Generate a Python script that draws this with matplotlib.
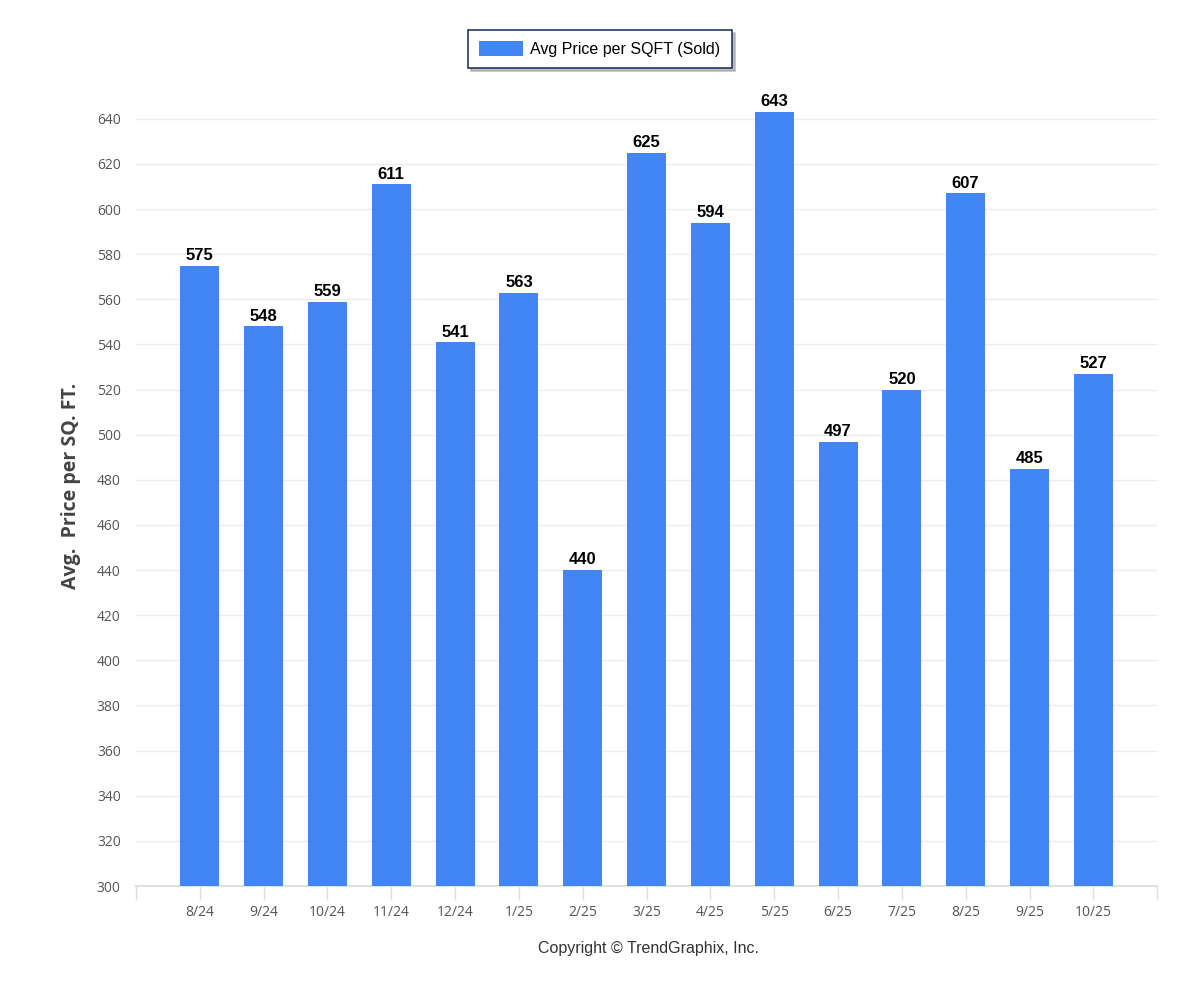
import matplotlib.pyplot as plt
from matplotlib.patches import Patch
import numpy as np

months = ['8/24', '9/24', '10/24', '11/24', '12/24', '1/25', '2/25', '3/25',
          '4/25', '5/25', '6/25', '7/25', '8/25', '9/25', '10/25']
price_sqft = [575, 548, 559, 611, 541, 563, 440, 625, 594, 643, 497, 520, 607, 485, 527]

bar_color = '#4285f4'

fig = plt.figure(figsize=(12, 10), dpi=100)
ax = fig.add_axes([0.1133, 0.114, 0.851, 0.801])

x = np.arange(len(months))
bars = ax.bar(x, price_sqft, width=0.61, color=bar_color, zorder=3)

# value labels above bars
for xi, v in zip(x, price_sqft):
    ax.text(xi, v + 1.2, str(v), ha='center', va='bottom', fontsize=12,
            fontweight='bold', family='Liberation Sans', color='black', zorder=4)

ax.set_xlim(-1, len(months))
ax.set_ylim(300, 655)
ax.set_yticks(np.arange(300, 641, 20))
ax.yaxis.grid(True, color='#ececec', linewidth=1, zorder=0)
ax.tick_params(axis='y', length=0, labelsize=10, labelcolor='#555555', pad=11)

ax.set_xticks(np.arange(-1, len(months) + 1))
ax.set_xticklabels([''] + months + [''])
ax.tick_params(axis='x', length=10, color='#e0e0e0', width=1, labelsize=10,
               labelcolor='#555555', pad=4)

for s in ['top', 'right', 'left']:
    ax.spines[s].set_visible(False)
ax.spines['bottom'].set_color('#e0e0e0')
ax.spines['bottom'].set_linewidth(1.5)

for lab in ax.get_xticklabels() + ax.get_yticklabels():
    lab.set_family('Open Sans')

ax.set_ylabel('Avg.  Price per SQ. FT.', fontsize=14, fontweight='bold',
              color='#444444', family='Open Sans', labelpad=11)

leg = fig.legend(handles=[Patch(facecolor=bar_color, label='Avg Price per SQFT (Sold)')],
                 loc='center', bbox_to_anchor=(0.5, 0.951), frameon=True, fancybox=False,
                 shadow={'color': '#999999', 'alpha': 0.6}, prop={'family': 'Liberation Sans', 'size': 11.5},
                 handlelength=2.7, handleheight=1.1, handletextpad=0.5, borderpad=0.7,
                 borderaxespad=0)
leg.get_frame().set_edgecolor('#1f3864')
leg.get_frame().set_linewidth(1.2)

fig.text(0.54, 0.051, 'Copyright \u00a9 TrendGraphix, Inc.', ha='center', va='center',
         fontsize=11.5, family='Liberation Sans', color='#333333')

fig.savefig('out.png', dpi=100, facecolor='white')
